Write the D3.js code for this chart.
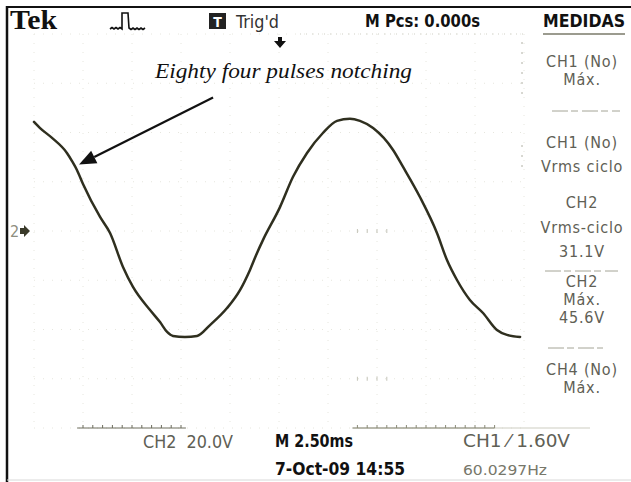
<!DOCTYPE html>
<html>
<head>
<meta charset="utf-8">
<script src="https://cdn.jsdelivr.net/npm/d3@7"></script>
<style>
  html, body { margin: 0; padding: 0; background: #fff; }
  svg { display: block; }
</style>
</head>
<body>
<svg id="scope" width="631" height="482"></svg>
<script>
// CH2 trace: time (ms from left edge of record) and voltage (V)
const timeMs = [0, 0.31, 0.92, 1.68, 1.94, 2.19, 2.50, 3.37, 3.88, 4.54, 5.05, 5.92, 6.43, 6.79, 7.09, 7.70, 8.32,
  8.98, 9.85, 10.51, 11.02, 11.38, 11.68, 12.55, 13.21, 13.93, 14.74, 15.46, 16.12, 16.63, 17.30,
  18.32, 18.83, 19.69, 20.56, 21.07, 21.58, 22.24, 22.91, 23.62, 24.13, 24.80];
const ch2Volts = [44.3, 41.8, 37.8, 31.7, 28.4, 24.8, 19.1, 5.7, -0.8, -14.6, -22.7, -32.1, -37.0, -41.0, -42.6, -43.0, -42.6,
  -38.2, -31.3, -24.0, -15.8, -8.9, -3.7, 9.7, 21.9, 31.7, 39.8, 44.7, 45.6, 44.7, 41.8,
  32.9, 26.0, 13.8, -0.8, -11.8, -19.9, -28.0, -33.3, -40.2, -42.2, -43.0];

// Screen settings
const msPerDiv = 2.5;
const voltsPerDiv = 20;
const hDivs = 10;
const vDivs = 8;

// Status bar and readouts
const headerLabels = ["Tek", "Trig'd", "M Pcs: 0.000s", "MEDIDAS"];
const footerLabels = ["CH2  20.0V", "M 2.50ms", "CH1 ⁄ 1.60V", "7-Oct-09 14:55", "60.0297Hz"];

// Measurement menu entries
const measureTitles = ["CH1 (No)", "CH1 (No)", "CH2", "CH2", "CH4 (No)"];
const measureTypes = ["Máx.", "Vrms ciclo", "Vrms-ciclo", "Máx.", "Máx."];
const measureValues = ["", "", "31.1V", "45.6V", ""];

// Annotation
const noteText = "Eighty four pulses notching";
const noteTarget = { t: 2.3, v: 27 };

// Visible stretches of the bottom time ruler (ms)
const rulerSpans = [[2.2, 7.75], [16.25, 23.5]];

const svg = d3.select("#scope");
const x = d3.scaleLinear().domain([0, hDivs * msPerDiv]).range([34, 524]);
const y = d3.scaleLinear().domain([-vDivs / 2 * voltsPerDiv, vDivs / 2 * voltsPerDiv]).range([428, 34]);

const scopeFont = "'DejaVu Sans Condensed','DejaVu Sans',sans-serif";
const dimInk = "#606055";
const ink = "#111";

// Frame
svg.append("line").attr("x1", 7).attr("x2", 631).attr("y1", 7).attr("y2", 7)
  .attr("stroke", "#111").attr("stroke-width", 2);
svg.append("line").attr("x1", 7).attr("x2", 7).attr("y1", 6).attr("y2", 482)
  .attr("stroke", "#111").attr("stroke-width", 2.5);
svg.append("line").attr("x1", 7).attr("x2", 631).attr("y1", 480).attr("y2", 480)
  .attr("stroke", "#d8d8d8").attr("stroke-width", 1);

// Faint graticule
const grat = svg.append("g").attr("stroke", "#e6e6de").attr("stroke-width", 1);
grat.selectAll("line.v").data(d3.range(0, hDivs + 1).map(i => i * msPerDiv)).join("line")
  .attr("x1", d => x(d)).attr("x2", d => x(d)).attr("y1", y.range()[1]).attr("y2", y.range()[0])
  .attr("stroke-dasharray", "1,8");
grat.selectAll("line.h").data(d3.range(0, vDivs + 1).map(i => (i - vDivs / 2) * voltsPerDiv)).join("line")
  .attr("y1", d => y(d)).attr("y2", d => y(d)).attr("x1", x.range()[0]).attr("x2", x.range()[1])
  .attr("stroke-dasharray", "1,8");
// top border dots
svg.append("line").attr("x1", 300).attr("x2", x.range()[1]).attr("y1", y(80)).attr("y2", y(80))
  .attr("stroke", "#cfcfc5").attr("stroke-dasharray", "1,5");
// right edge ticks
svg.append("line").attr("x1", x.range()[1] - 2).attr("x2", x.range()[1] - 2).attr("y1", 42).attr("y2", 95)
  .attr("stroke", "#b0b0a4").attr("stroke-dasharray", "2,8");
svg.append("line").attr("x1", x.range()[1] - 2).attr("x2", x.range()[1] - 2).attr("y1", 145).attr("y2", 170)
  .attr("stroke", "#b0b0a4").attr("stroke-dasharray", "2,8");
// minor ticks on the inner graticule
const minorTick = svg.append("g").attr("stroke", "#c4c4b8");
[0, 0.5, 1, 1.5].forEach(d => {
  minorTick.append("line").attr("x1", x(16.5 + d)).attr("x2", x(16.5 + d))
    .attr("y1", y(0) - 2).attr("y2", y(0) + 2);
  minorTick.append("line").attr("x1", x(16.5 + d)).attr("x2", x(16.5 + d))
    .attr("y1", y(-60) - 2).attr("y2", y(-60) + 2);
});

// Bottom time ruler
const ruler = svg.append("g");
ruler.append("line").attr("x1", x(16.25)).attr("x2", 590).attr("y1", y(-80)).attr("y2", y(-80))
  .attr("stroke", "#cdcdc1").attr("stroke-width", 1);
rulerSpans.forEach(([a, b], i) => {
  ruler.append("line").attr("x1", x(a)).attr("x2", x(b)).attr("y1", y(-80)).attr("y2", y(-80))
    .attr("stroke", i === 0 ? "#6c6c5c" : "#8a8a78").attr("stroke-width", 1);
  ruler.selectAll(null).data(d3.range(Math.ceil(a * 2) / 2, b + 1e-6, 0.5)).join("line")
    .attr("x1", d => x(d)).attr("x2", d => x(d))
    .attr("y1", y(-80)).attr("y2", y(-80) - 3)
    .attr("stroke", i === 0 ? "#6c6c5c" : "#8a8a78");
});

// Menu separators
const sep = svg.append("g").attr("stroke", "#a4a496").attr("stroke-width", 1);
sep.append("line").attr("x1", 543).attr("x2", 625).attr("y1", 34).attr("y2", 34).attr("stroke", "#7a7a6a").attr("stroke-width", 1.3);
[[552, 620, 111], [545, 618, 271], [548, 603, 348]].forEach(([a, b, yy]) =>
  sep.append("line").attr("x1", a).attr("x2", b).attr("y1", yy).attr("y2", yy).attr("stroke-dasharray", "16,3,7,4"));

// Trace
const pts = timeMs.map((t, i) => [t, ch2Volts[i]]);
svg.append("path").datum(pts)
  .attr("fill", "none").attr("stroke", "#2f2f1f").attr("stroke-width", 2.5)
  .attr("stroke-linejoin", "round").attr("stroke-linecap", "round")
  .attr("d", d3.line().x(d => x(d[0])).y(d => y(d[1])).curve(d3.curveMonotoneX));

// Channel ground marker (CH2)
svg.append("text").attr("x", 10).attr("y", y(0) + 6).attr("font-family", scopeFont)
  .attr("font-size", 16).attr("fill", "#8e8e80").text("2");
svg.append("path")
  .attr("d", `M20,${y(0) - 3} L24,${y(0) - 3} L24,${y(0) - 6} L30,${y(0)} L24,${y(0) + 6} L24,${y(0) + 3} L20,${y(0) + 3} Z`)
  .attr("fill", "#3a3a2a");

// Header
svg.append("text").attr("x", 10).attr("y", 29)
  .attr("font-family", "'Liberation Serif','Times New Roman',serif").attr("font-weight", "bold")
  .attr("font-size", 27).attr("fill", ink).attr("textLength", 47).attr("lengthAdjust", "spacingAndGlyphs")
  .text(headerLabels[0]);
// acquisition icon
svg.append("path")
  .attr("d", "M110,29 l2,-1.5 l2,1.5 l2,-1.5 l2,1.5 l2,-1.5 l2,1.5 L122,13 L128,13 L129,28 l2,1.5 l2,-1.5 l2,1.5 l2,-1.5 l2,1.5 l2,-1.5 l2,1.5 l2,-1.5")
  .attr("fill", "none").attr("stroke", "#111").attr("stroke-width", 1.6);
// trigger status box
svg.append("rect").attr("x", 209).attr("y", 13).attr("width", 17).attr("height", 16).attr("fill", "#222");
svg.append("text").attr("x", 217.5).attr("y", 27).attr("text-anchor", "middle")
  .attr("font-family", scopeFont).attr("font-weight", "bold").attr("font-size", 14).attr("fill", "#fff").text("T");
svg.append("text").attr("x", 236).attr("y", 28).attr("font-family", scopeFont)
  .attr("font-size", 18).attr("fill", "#333").attr("textLength", 43).attr("lengthAdjust", "spacingAndGlyphs")
  .text(headerLabels[1]);
// trigger position arrow
const tx = x(12.5) + 1;
svg.append("path")
  .attr("d", `M${tx - 2},37 L${tx + 2},37 L${tx + 2},41 L${tx + 6},41 L${tx},48 L${tx - 6},41 L${tx - 2},41 Z`)
  .attr("fill", "#111");
svg.append("text").attr("x", 365).attr("y", 27).attr("font-family", scopeFont).attr("font-weight", "bold")
  .attr("font-size", 18).attr("fill", ink).attr("textLength", 115).attr("lengthAdjust", "spacingAndGlyphs")
  .text(headerLabels[2]);
svg.append("text").attr("x", 543).attr("y", 27).attr("font-family", scopeFont).attr("font-weight", "bold")
  .attr("font-size", 18).attr("fill", ink).attr("textLength", 82).attr("lengthAdjust", "spacingAndGlyphs")
  .text(headerLabels[3]);

// Measurement menu
const blockLayout = [
  { top: 67, gap: 18 },
  { top: 148, gap: 24 },
  { top: 208, gap: 24.5 },
  { top: 287, gap: 18 },
  { top: 375, gap: 18 }
];
const menu = svg.append("g").attr("font-family", scopeFont).attr("font-size", 16)
  .attr("letter-spacing", 0.8).attr("fill", dimInk).attr("text-anchor", "middle");
measureTitles.forEach((title, i) => {
  const lines = [title, measureTypes[i], measureValues[i]].filter(s => s);
  lines.forEach((s, j) => {
    menu.append("text").attr("x", 582).attr("y", blockLayout[i].top + j * blockLayout[i].gap).text(s);
  });
});

// Footer
const foot = svg.append("g").attr("font-family", scopeFont);
foot.append("text").attr("x", 143).attr("y", 448).attr("font-size", 17).attr("fill", dimInk)
  .attr("textLength", 90).attr("lengthAdjust", "spacingAndGlyphs").attr("xml:space", "preserve")
  .text(footerLabels[0]);
foot.append("text").attr("x", 275).attr("y", 447).attr("font-size", 18).attr("font-weight", "bold").attr("fill", ink)
  .attr("textLength", 78).attr("lengthAdjust", "spacingAndGlyphs").text(footerLabels[1]);
foot.append("text").attr("x", 463).attr("y", 447).attr("font-size", 18).attr("fill", dimInk)
  .attr("textLength", 107).attr("lengthAdjust", "spacingAndGlyphs").text(footerLabels[2]);
foot.append("text").attr("x", 275).attr("y", 475).attr("font-size", 17).attr("font-weight", "bold").attr("fill", ink)
  .attr("textLength", 130).attr("lengthAdjust", "spacingAndGlyphs").text(footerLabels[3]);
foot.append("text").attr("x", 463).attr("y", 475).attr("font-size", 14).attr("fill", "#77776a")
  .attr("textLength", 84).attr("lengthAdjust", "spacingAndGlyphs").text(footerLabels[4]);

// Annotation with arrow pointing at the notched slope
const ax = x(noteTarget.t), ay = y(noteTarget.v);
const bx = ax + 134, by = ay - 67;
const ang = Math.atan2(ay - by, ax - bx);
const headLen = 17, headW = 7;
const hx = ax - headLen * Math.cos(ang), hy = ay - headLen * Math.sin(ang);
svg.append("line").attr("x1", bx).attr("y1", by).attr("x2", hx).attr("y2", hy)
  .attr("stroke", "#111").attr("stroke-width", 2.2);
svg.append("path")
  .attr("d", `M${ax},${ay} L${hx - headW * Math.sin(ang)},${hy + headW * Math.cos(ang)} L${hx + headW * Math.sin(ang)},${hy - headW * Math.cos(ang)} Z`)
  .attr("fill", "#111");
svg.append("text").attr("x", 155).attr("y", 78)
  .attr("font-family", "'Liberation Serif','Times New Roman',serif").attr("font-style", "italic")
  .attr("font-size", 22).attr("fill", "#111").attr("textLength", 257).attr("lengthAdjust", "spacingAndGlyphs")
  .text(noteText);
</script>
</body>
</html>
